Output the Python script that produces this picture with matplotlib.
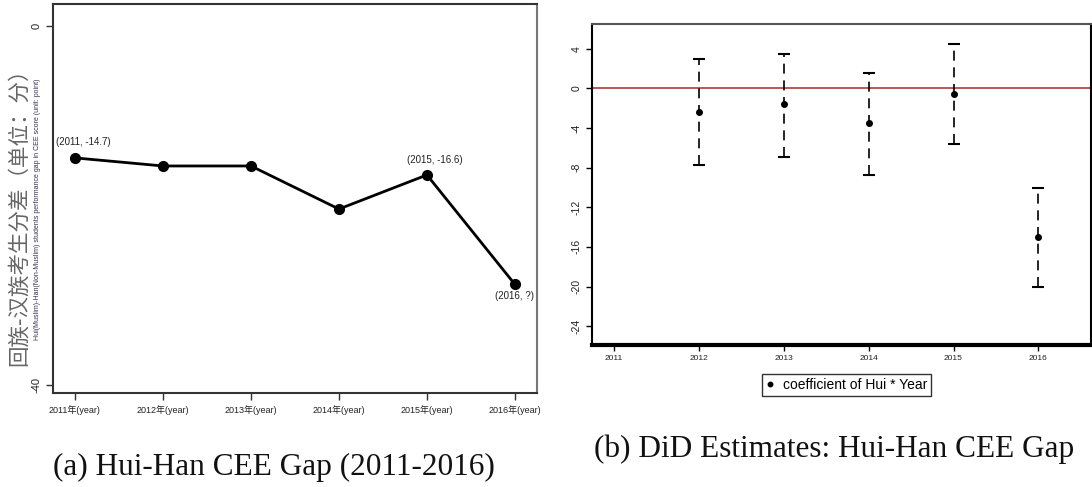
import matplotlib
matplotlib.use("Agg")
import matplotlib.pyplot as plt

plt.rcParams['font.family'] = ['Liberation Sans', 'Noto Sans CJK SC', 'DejaVu Sans']

# ---- data: panel (a) ----
years_a = [2011, 2012, 2013, 2014, 2015, 2016]
gap_a = [-14.7, -15.6, -15.6, -20.4, -16.6, -28.8]
xtick_a = ["2011年(year)", "2012年(year)", "2013年(year)", "2014年(year)", "2015年(year)", "2016年(year)"]
ann_a = {2011: "(2011, -14.7)", 2015: "(2015, -16.6)", 2016: "(2016, ?)"}

# ---- data: panel (b) ----
years_b = [2012, 2013, 2014, 2015, 2016]
coef_b = [-2.4, -1.6, -3.5, -0.6, -15.0]
upper_b = [3.0, 3.5, 1.6, 4.5, -10.1]
lower_b = [-7.7, -6.9, -8.7, -5.6, -20.0]
xtick_b = [2011, 2012, 2013, 2014, 2015, 2016]
ytick_b = [4, 0, -4, -8, -12, -16, -20, -24]

fig = plt.figure(figsize=(10.92, 4.87), dpi=100)

# ---------------- panel (a) ----------------
ax1 = fig.add_axes([0.0485, 0.193, 0.4432, 0.7988])
ax1.plot(years_a, gap_a, color='black', lw=2, marker='o', ms=7, mfc='black', mec='black')
ax1.set_xlim(2010.75, 2016.25)
ax1.set_ylim(-40.9, 2.45)
ax1.set_yticks([0, -40])
ax1.set_yticklabels(["0", "-40"], rotation=90, va='center', fontsize=8, color='#222222')
ax1.set_xticks(years_a)
ax1.set_xticklabels(xtick_a, fontsize=6.5, color='#222222')
ax1.tick_params(direction='out', length=5, width=1, color='#333333')
for s in ax1.spines.values():
    s.set_linewidth(1.5)
    s.set_color('#333333')
ax1.spines['right'].set_color('#777777')

off = {2011: (6, 8, 'center', 'bottom'), 2015: (6, 7, 'center', 'bottom'), 2016: (0, -5, 'center', 'top')}
for x, y in zip(years_a, gap_a):
    if x in ann_a:
        dx, dy, ha, va = off[x]
        ax1.annotate(ann_a[x], (x, y), xytext=(dx, dy), textcoords='offset points',
                     ha=ha, va=va, fontsize=7, color='#222222')

fig.text(0.0175, 0.565, "回族-汉族考生分差（单位：分）", rotation=90, ha='center', va='center',
         fontsize=15.5, color='#666666', family=['Noto Sans CJK SC', 'DejaVu Sans'])
fig.text(0.0345, 0.57,
         "Hui(Muslim)-Han(Non-Muslim) students performance gap in CEE score (unit: point)",
         rotation=90, ha='center', va='center', fontsize=5, color='#333355')

# ---------------- panel (b) ----------------
ax2 = fig.add_axes([0.5421, 0.2916, 0.457, 0.659])
ax2.axhline(0, color='#b03a3a', lw=1.2, zorder=1)
yerr = [[c - l for c, l in zip(coef_b, lower_b)], [u - c for c, u in zip(coef_b, upper_b)]]
eb = ax2.errorbar(years_b, coef_b, yerr=yerr, fmt='none', ecolor='black',
                  elinewidth=1.2, capsize=4, capthick=1.5)
eb[2][0].set_linestyle((0, (6, 4)))
ax2.plot(years_b, coef_b, 'o', color='black', ms=4, label='coefficient of Hui * Year')
ax2.set_xlim(2010.74, 2016.62)
ax2.set_ylim(-25.9, 6.5)
ax2.set_yticks(ytick_b)
ax2.set_yticklabels([str(v) for v in ytick_b], rotation=90, va='center', fontsize=7.5, color='#222222')
ax2.set_xticks(xtick_b)
ax2.set_xticklabels([str(v) for v in xtick_b], fontsize=6, color='#222222')
ax2.tick_params(direction='out', length=4, width=1)
ax2.spines['top'].set_color('#555555')
ax2.spines['top'].set_linewidth(1.5)
ax2.spines['left'].set_linewidth(1.5)
ax2.spines['right'].set_linewidth(1.5)
ax2.spines['bottom'].set_linewidth(3)
leg = ax2.legend(loc='upper center', bbox_to_anchor=(0.51, -0.068), fontsize=10, frameon=True,
                 fancybox=False, edgecolor='black', handlelength=0.6, handletextpad=0.6,
                 borderpad=0.3, markerscale=0.8)
leg.get_frame().set_linewidth(1.0)

# ---------------- captions ----------------
fig.text(0.2505, 0.041, "(a) Hui-Han CEE Gap (2011-2016)", ha='center', va='center',
         fontsize=22.5, family='Liberation Serif', color='#111111')
fig.text(0.7637, 0.078, "(b) DiD Estimates: Hui-Han CEE Gap", ha='center', va='center',
         fontsize=22.5, family='Liberation Serif', color='#111111')

fig.savefig("out.png", dpi=100)
